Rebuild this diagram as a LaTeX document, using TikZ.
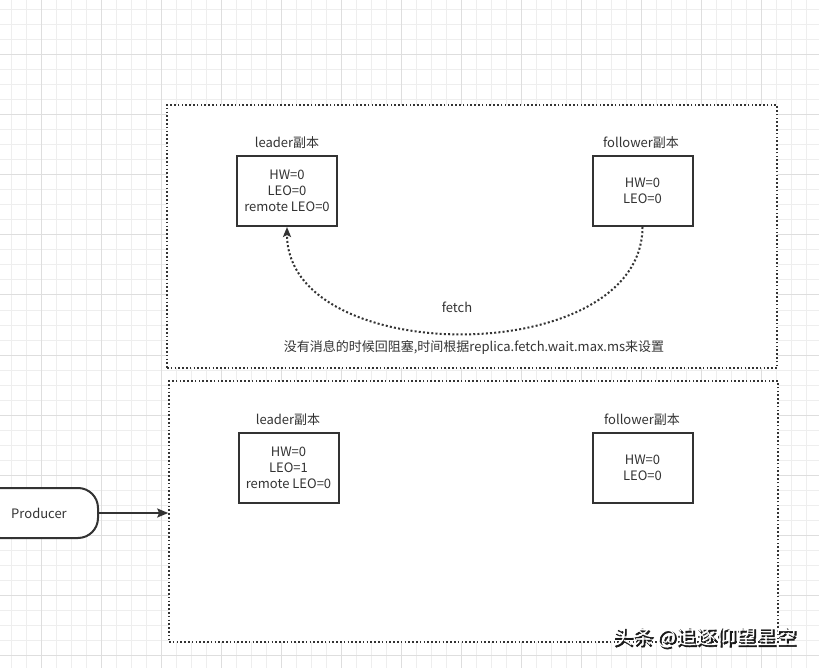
\documentclass[tikz,border=0pt]{standalone}
\usepackage{fontspec}
\setmainfont{Noto Sans CJK SC}
\newfontfamily\wmshadowfont[FakeBold=3]{Noto Sans CJK SC}
\usetikzlibrary{arrows.meta}
\definecolor{ink}{HTML}{333333}
\definecolor{gridminor}{HTML}{EEEEEE}
\definecolor{gridmajor}{HTML}{DEDEDE}
\tikzset{
  container/.style={draw=ink, fill=white, line width=1.6pt, dash pattern=on 1.6pt off 2.2pt, inner sep=0pt},
  replbox/.style={draw=ink, fill=white, line width=2pt, minimum width=100, minimum height=70, align=center, inner sep=0pt, text=ink},
  lbl/.style={text=ink, inner sep=0pt},
  fetcharrow/.style={draw=ink, line width=2pt, dash pattern=on 2pt off 2.2pt, -{Stealth[length=10pt,width=8pt,inset=2pt]}},
  solidarrow/.style={draw=ink, line width=2pt, -{Stealth[length=11pt,width=9pt,inset=2pt]}},
}
\begin{document}
\begin{tikzpicture}[x=1pt,y=-1pt, font=\fontsize{13}{16}\selectfont]
\useasboundingbox (0,0) rectangle (819,668);
\clip (0,0) rectangle (819,668);
\fill[white] (0,0) rectangle (819,668);
% grid
\foreach \i in {0,...,54} \draw[gridminor, line width=1pt] ({11.7+15*\i},0) -- ++(0,668);
\foreach \j in {0,...,44} \draw[gridminor, line width=1pt] (0,{10+15*\j}) -- ++(819,0);
\foreach \i in {0,...,13} \draw[gridmajor, line width=1pt] ({41.7+60*\i},0) -- ++(0,668);
\foreach \j in {0,...,10} \draw[gridmajor, line width=1pt] (0,{55+60*\j}) -- ++(819,0);

% containers
\node[container, minimum width=610, minimum height=263] (cont1) at (472,236.5) {};
\node[container, minimum width=609, minimum height=261] (cont2) at (473.5,511.5) {};

% top section
\node[replbox] (lead1) at (287,191) {HW=0\\LEO=0\\remote LEO=0};
\node[lbl] (lead1lbl) at (287,143) {leader副本};
\node[replbox] (foll1) at (642.5,191) {HW=0\\LEO=0};
\node[lbl] (foll1lbl) at (641,143) {follower副本};
\draw[fetcharrow] (foll1.south) .. controls (642,369) and (287,369) .. (lead1.south);
\node[lbl] (fetchlbl) at (457,307) {fetch};
\node[lbl] (note) at (474,347) {没有消息的时候回阻塞,时间根据replica.fetch.wait.max.ms来设置};

% bottom section
\node[replbox] (lead2) at (288.5,467.5) {HW=0\\LEO=1\\remote LEO=0};
\node[lbl] (lead2lbl) at (288,420) {leader副本};
\node[replbox] (foll2) at (642.5,467.5) {HW=0\\LEO=0};
\node[lbl] (foll2lbl) at (642,420) {follower副本};

% producer
\node[draw=ink, fill=white, line width=2pt, rounded corners=20pt, minimum width=118, minimum height=50, text=ink, inner sep=0pt] (prod) at (39,513) {Producer};
\draw[solidarrow] (prod.east) -- (prod.east -| cont2.west);

% watermark
\node[inner sep=0pt, text=black!90, font=\fontsize{20}{24}\wmshadowfont] (wmshadow) at (706,639) {头条 @追逐仰望星空};
\node[inner sep=0pt, text=white, font=\fontsize{20}{24}\selectfont] (wm) at (705,638) {头条 @追逐仰望星空};
\end{tikzpicture}
\end{document}
